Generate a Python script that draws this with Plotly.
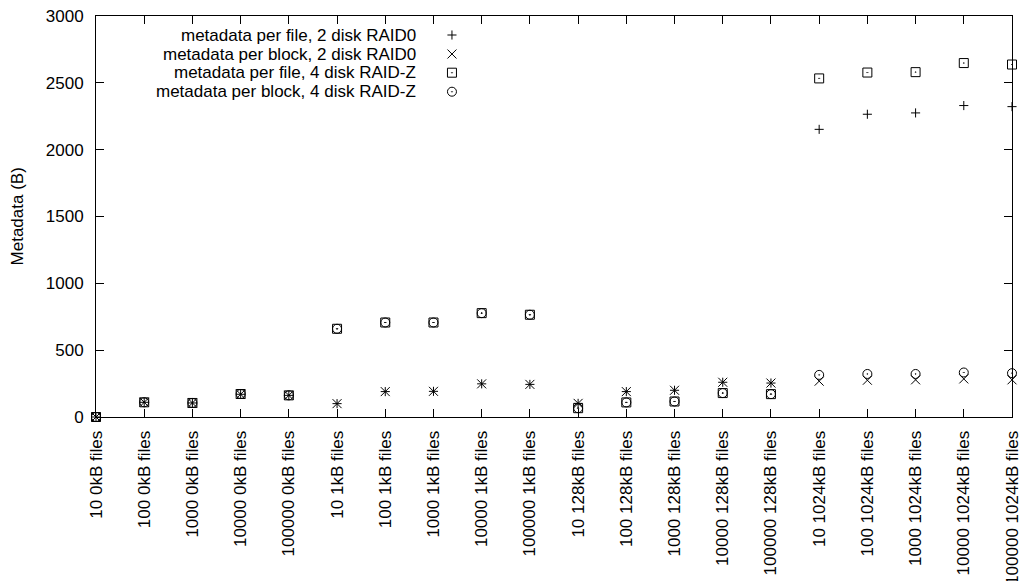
import plotly.graph_objects as go

categories = [
    "10 0kB files", "100 0kB files", "1000 0kB files", "10000 0kB files", "100000 0kB files",
    "10 1kB files", "100 1kB files", "1000 1kB files", "10000 1kB files", "100000 1kB files",
    "10 128kB files", "100 128kB files", "1000 128kB files", "10000 128kB files", "100000 128kB files",
    "10 1024kB files", "100 1024kB files", "1000 1024kB files", "10000 1024kB files", "100000 1024kB files",
]

per_file_raid0 = [0, 110, 105, 170, 162, 100, 190, 192, 248, 244, 102, 190, 200, 260, 254,
                  2152, 2265, 2275, 2330, 2322]
per_block_raid0 = [0, 110, 105, 170, 162, 100, 190, 192, 248, 244, 102, 190, 200, 260, 254,
                   268, 275, 278, 285, 278]
per_file_raidz = [0, 110, 105, 172, 162, 660, 707, 707, 777, 765, 66, 109, 116, 179, 171,
                  2533, 2577, 2580, 2648, 2637]
per_block_raidz = [0, 110, 105, 172, 162, 660, 707, 707, 777, 765, 66, 109, 116, 179, 171,
                   315, 322, 322, 333, 328]

series_names = [
    "metadata per file, 2 disk RAID0",
    "metadata per block, 2 disk RAID0",
    "metadata per file, 4 disk RAID-Z",
    "metadata per block, 4 disk RAID-Z",
]
series_values = [per_file_raid0, per_block_raid0, per_file_raidz, per_block_raidz]
symbols = ["cross-thin-open", "x-thin-open", "square-open-dot", "circle-open-dot"]
sizes = [6.5, 9, 9, 9]

FONT = "Liberation Sans, Arial, sans-serif"
FS = 17

fig = go.Figure()
for name, vals, sym, sz in zip(series_names, series_values, symbols, sizes):
    fig.add_trace(go.Scatter(
        x=categories, y=vals, mode="markers", name=name, showlegend=False,
        cliponaxis=False,
        marker=dict(symbol=sym, size=sz, color="black", line=dict(color="black", width=1)),
    ))

# manual gnuplot-style key: text right-aligned, symbol to its right
key_rows = [0.9526, 0.9052, 0.8586, 0.8112]
key_text_x = 0.3515
key_sym_x = 0.3886
for name, sym, sz, yy in zip(series_names, symbols, sizes, key_rows):
    fig.add_trace(go.Scatter(
        x=[key_sym_x], y=[yy], xaxis="x2", yaxis="y2", mode="markers", showlegend=False,
        cliponaxis=False, hoverinfo="skip",
        marker=dict(symbol=sym, size=sz, color="black", line=dict(color="black", width=1)),
    ))
    fig.add_annotation(x=key_text_x, y=yy, xref="paper", yref="paper", text=name,
                       showarrow=False, xanchor="right", yanchor="middle",
                       font=dict(family=FONT, size=FS, color="black"))

fig.add_annotation(x=-0.0852, y=0.5, xref="paper", yref="paper", text="Metadata (B)",
                   textangle=-90, showarrow=False, xanchor="center", yanchor="middle",
                   font=dict(family=FONT, size=FS, color="black"))

axis_common = dict(showline=True, linecolor="black", linewidth=1, mirror="allticks",
                   ticks="inside", ticklen=8, tickwidth=1, tickcolor="black",
                   showgrid=False, zeroline=False, automargin=False,
                   tickfont=dict(family=FONT, size=FS, color="black"))

fig.update_layout(
    width=1019, height=581,
    margin=dict(l=96, r=7, t=16, b=164),
    paper_bgcolor="white", plot_bgcolor="white",
    showlegend=False,
    xaxis=dict(type="category", range=[0, 19], tickangle=-90, ticklabelstandoff=6,
               **axis_common),
    yaxis=dict(range=[0, 3000], tickvals=[0, 500, 1000, 1500, 2000, 2500, 3000],
               ticklabelstandoff=8, **axis_common),
    xaxis2=dict(overlaying="x", range=[0, 1], visible=False),
    yaxis2=dict(overlaying="y", range=[0, 1], visible=False),
)

fig.write_html("out.html")
